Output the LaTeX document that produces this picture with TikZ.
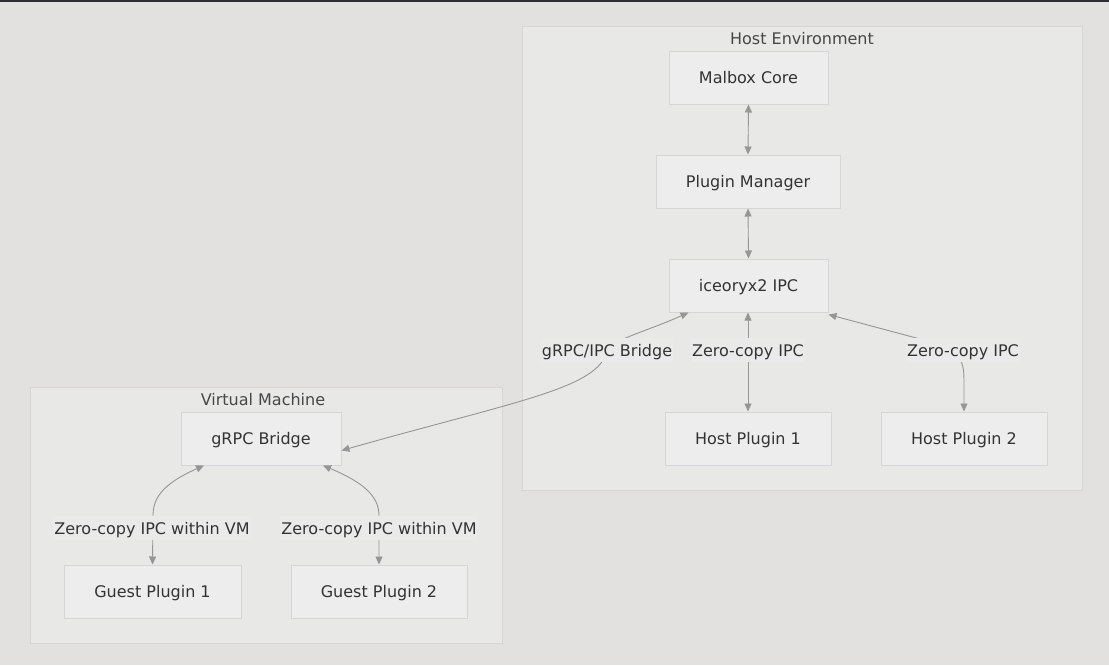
\documentclass[tikz,border=0pt]{standalone}
\usepackage{fontspec}
\setmainfont{DejaVu Sans}
\usetikzlibrary{arrows.meta}
\definecolor{bgc}{RGB}{226,225,223}
\definecolor{clfill}{RGB}{232,232,231}
\definecolor{cldraw}{RGB}{214,214,213}
\definecolor{nfill}{RGB}{237,237,237}
\definecolor{ndraw}{RGB}{214,214,214}
\definecolor{txt}{RGB}{51,51,51}
\definecolor{edge}{RGB}{150,150,150}
\definecolor{lblbg}{RGB}{234,234,234}
\tikzset{
  tfont/.style={font=\fontsize{16}{19}\selectfont, text height=12.7pt, text depth=0pt},
  box/.style={tfont, draw=ndraw, line width=1pt, fill=nfill, text=txt, inner sep=0pt},
  cluster/.style={draw=cldraw, line width=1pt, fill=clfill},
  ctitle/.style={tfont, text=txt!90!white, inner sep=0pt},
  lbl/.style={tfont, fill=lblbg, text=txt, inner xsep=1pt, inner ysep=5.6pt},
  conn/.style={draw=edge, line width=0.9pt, {Triangle[length=8pt,width=7pt]}-{Triangle[length=8pt,width=7pt]}},
}
\begin{document}
\begin{tikzpicture}[x=1pt,y=-1pt]
\useasboundingbox (0,0) rectangle (1109,665);
\fill[bgc] (0,0) rectangle (1109,665);
\fill[black!82] (0,0) rectangle (1109,2);
% clusters
\draw[cluster] (522,26) rectangle (1082,490);
\node[ctitle] (hosttitle) at (802,38) {Host Environment};
\draw[cluster] (30,387) rectangle (502,643);
\node[ctitle] (vmtitle) at (263,399) {Virtual Machine};
% nodes
\node[box, minimum width=159pt, minimum height=53pt] (core) at (748.5,77.5) {Malbox Core};
\node[box, minimum width=184pt, minimum height=53pt] (pm) at (748,181.5) {Plugin Manager};
\node[box, minimum width=159pt, minimum height=53pt] (ice) at (748.5,285.5) {iceoryx2 IPC};
\node[box, minimum width=166pt, minimum height=53pt] (hp1) at (748,438.5) {Host Plugin 1};
\node[box, minimum width=166pt, minimum height=53pt] (hp2) at (964,438.5) {Host Plugin 2};
\node[box, minimum width=160pt, minimum height=53pt] (grpc) at (261,438.5) {gRPC Bridge};
\node[box, minimum width=177pt, minimum height=53pt] (gp1) at (152.5,591.5) {Guest Plugin 1};
\node[box, minimum width=176pt, minimum height=53pt] (gp2) at (379,591.5) {Guest Plugin 2};
% coordinates
\coordinate (iceA) at ([xshift=-60pt]ice.south);
\coordinate (iceB) at ([xshift=80pt, yshift=-2pt]ice.south);
\coordinate (grpcE) at ([yshift=-12pt]grpc.east);
\coordinate (grpcA) at ([xshift=-57pt]grpc.south);
\coordinate (grpcB) at ([xshift=62pt]grpc.south);
\coordinate (gp1N) at (gp1.north);
\coordinate (gp2N) at (gp2.north);
% edges
\draw[conn] (core.south) -- (pm.north);
\draw[conn] (pm.south) -- (ice.north);
\draw[conn] ([xshift=-0.5pt]ice.south) -- (hp1.north);
\draw[conn] (iceA) .. controls (650,330) and (612,340) .. (607,350) .. controls (600,388) and (520,400) .. (grpcE);
\draw[conn] (iceB) -- (920,339) .. controls (964,352) and (964,360) .. (964,385) -- (hp2.north);
\draw[conn] (grpcA) .. controls (160,485) and (153,500) .. (153,516) -- (gp1N);
\draw[conn] (grpcB) .. controls (370,485) and (379,500) .. (379,516) -- (gp2N);
% labels
\node[lbl] (l1) at (607,350) {gRPC/IPC Bridge};
\node[lbl] (l2) at (748,350) {Zero-copy IPC};
\node[lbl] (l3) at (963,350) {Zero-copy IPC};
\node[lbl] (l4) at (152,528) {Zero-copy IPC within VM};
\node[lbl] (l5) at (379,528) {Zero-copy IPC within VM};
\end{tikzpicture}
\end{document}
